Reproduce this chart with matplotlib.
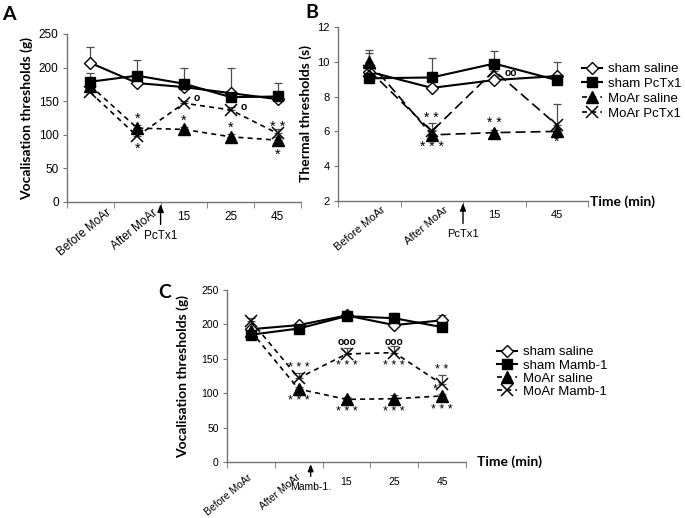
import numpy as np
import matplotlib
matplotlib.use("Agg")
import matplotlib.pyplot as plt
from matplotlib.lines import Line2D
from matplotlib.transforms import ScaledTranslation

plt.rcParams['font.family'] = ['Liberation Sans', 'DejaVu Sans']
BOLD_FONT = ['Lato', 'DejaVu Sans']

# ---- Panel A: vocalisation thresholds, PcTx1 ----
a_times = ["Before MoAr", "After MoAr", "15", "25", "45"]
a_sham_saline = [207, 177, 171, 162, 153]
a_sham_saline_err = [24, 4, 4, 37, 11]
a_sham_pctx1 = [179, 188, 176, 156, 157]
a_sham_pctx1_err = [13, 23, 24, 5, 20]
a_moar_saline = [173, 110, 108, 97, 92]
a_moar_saline_err = [4, 4, 3, 4, 4]
a_moar_pctx1 = [163, 98, 147, 137, 102]
a_moar_pctx1_err = [4, 4, 4, 5, 6]
a_marks = [(1, 124, "*"), (1, 79, "*"), (2, 121, "*"), (2.27, 155, "o"),
           (3, 111, "*"), (3.27, 141, "o"), (4, 112, "* *"), (4, 71, "*")]

# ---- Panel B: thermal thresholds, PcTx1 ----
b_times = ["Before MoAr", "After MoAr", "15", "45"]
b_sham_saline = [9.43, 8.5, 8.95, 9.18]
b_sham_saline_err = [1.1, 0.15, 0.15, 0.82]
b_sham_pctx1 = [9.05, 9.1, 9.9, 8.95]
b_sham_pctx1_err = [0.15, 1.1, 0.74, 0.15]
b_moar_saline = [10.0, 5.8, 5.93, 6.0]
b_moar_saline_err = [0.7, 0.3, 0.15, 0.15]
b_moar_pctx1 = [9.5, 6.0, 9.5, 6.37]
b_moar_pctx1_err = [0.3, 0.5, 0.3, 1.23]
b_marks = [(1, 6.77, "* *"), (1, 5.12, "* * *"), (2, 6.5, "* *"),
           (2.27, 9.37, "oo"), (3, 5.4, "*")]

# ---- Panel C: vocalisation thresholds, Mamb-1 ----
c_times = ["Before MoAr", "After MoAr", "15", "25", "45"]
c_sham_saline = [193, 199, 213, 199, 206]
c_sham_saline_err = [3, 3, 3, 3, 7]
c_sham_mamb1 = [185, 194, 212, 209, 196]
c_sham_mamb1_err = [3, 3, 3, 7, 3]
c_moar_saline = [190, 106, 91, 92, 96]
c_moar_saline_err = [3, 3, 3, 6, 3]
c_moar_mamb1 = [205, 122, 157, 159, 113]
c_moar_mamb1_err = [4, 8, 8, 9, 13]
c_marks = [(1, 136, "* * *"), (1, 88, "* * *"), (2, 174, "ooo"), (2, 140, "* * *"),
           (2, 72, "* * *"), (3, 175, "ooo"), (3, 140, "* * *"), (3, 73, "* * *"),
           (4, 134, "* *"), (3.85, 105, "*"), (4, 75, "* * *")]

AXIS_GREY = '0.45'
ERR_GREY = '0.3'


def series_styles(dash):
    return [
        dict(marker='D', ms=6, mfc='white', mec='black', color='black', lw=1.5, ls='-'),
        dict(marker='s', ms=7, mfc='black', mec='black', color='black', lw=1.5, ls='-'),
        dict(marker='^', ms=8.5, mfc='black', mec='black', color='black', lw=1.2, dashes=dash),
        dict(marker='x', ms=9, mew=1.1, color='black', lw=1.2, dashes=dash),
    ]


def draw_panel(ax, times, series, errs, dash, ylim, yticks, fs):
    x = np.arange(len(times))
    styles = series_styles(dash)
    for y, e, st in zip(series, errs, styles):
        ax.errorbar(x, y, yerr=[np.zeros(len(e)), e], fmt='none', ecolor=ERR_GREY,
                    elinewidth=0.9, capsize=3, capthick=0.9, zorder=2)
        ax.plot(x, y, zorder=3, **st)
    ax.set_xlim(-0.5, len(times) - 0.5)
    ax.set_ylim(*ylim)
    ax.set_yticks(yticks)
    ax.set_xticks([])
    ax.set_xticks(np.arange(-0.5, len(times)), minor=True)
    ax.tick_params(axis='x', which='minor', length=4, color=AXIS_GREY, direction='out')
    ax.tick_params(axis='y', length=3, color=AXIS_GREY, labelsize=fs, pad=3)
    for side in ['top', 'right']:
        ax.spines[side].set_visible(False)
    for side in ['left', 'bottom']:
        ax.spines[side].set_color(AXIS_GREY)
        ax.spines[side].set_linewidth(1)


def category_labels(fig, ax, times, rot_dx, rot_dy, num_dy, fs):
    trans = ax.get_xaxis_transform()
    for i, lab in enumerate(times):
        if i < 2:
            off = ScaledTranslation(rot_dx / 100, -rot_dy / 100, fig.dpi_scale_trans)
            ax.text(i, 0, lab, transform=trans + off, rotation=40, ha='right', va='top',
                    rotation_mode='anchor', fontsize=fs, clip_on=False)
        else:
            off = ScaledTranslation(0, -num_dy / 100, fig.dpi_scale_trans)
            ax.text(i, 0, lab, transform=trans + off, ha='center', va='center',
                    fontsize=fs, clip_on=False)


def injection_arrow(ax, xpos, label, text_dy, fs):
    ax.annotate(label, xy=(xpos, 0), xycoords=ax.get_xaxis_transform(),
                xytext=(0, -text_dy * 0.72), textcoords='offset points',
                ha='center', va='center', fontsize=fs, annotation_clip=False,
                arrowprops=dict(arrowstyle='-|>,head_width=0.22,head_length=0.55',
                                color='black', lw=1, shrinkA=2, shrinkB=1.5))


def marks(ax, items, fs):
    for xm, ym, txt in items:
        if 'o' in txt:
            ax.text(xm, ym, txt, ha='center', va='center', fontsize=7.5,
                    fontweight='bold', zorder=4)
        else:
            ax.text(xm, ym, txt, ha='center', va='center', fontsize=fs, zorder=4)


def legend_handles(dash):
    return [Line2D([], [], **st) for st in series_styles(dash)]


fig = plt.figure(figsize=(6.85, 5.18), dpi=100)
W, H = 685, 518


def px_axes(left, top, right, bottom):
    return fig.add_axes([left / W, 1 - bottom / H, (right - left) / W, (bottom - top) / H])


dash_short = (3, 2.5)
dash_long = (6, 3)

# Panel A
axA = px_axes(67, 34, 301, 202)
draw_panel(axA, a_times, [a_sham_saline, a_sham_pctx1, a_moar_saline, a_moar_pctx1],
           [a_sham_saline_err, a_sham_pctx1_err, a_moar_saline_err, a_moar_pctx1_err],
           dash_short, (0, 250), np.arange(0, 251, 50), 8.5)
category_labels(fig, axA, a_times, 15, 5, 15, 8.5)
injection_arrow(axA, 1.5, "PcTx1", 34, 8.5)
marks(axA, a_marks, 10.5)
axA.set_ylabel("Vocalisation thresholds (g)", fontsize=10, fontweight='bold', family=BOLD_FONT)
axA.yaxis.set_label_coords(-0.146, 0.5)

# Panel B
axB = px_axes(338, 27, 588, 201)
draw_panel(axB, b_times, [b_sham_saline, b_sham_pctx1, b_moar_saline, b_moar_pctx1],
           [b_sham_saline_err, b_sham_pctx1_err, b_moar_saline_err, b_moar_pctx1_err],
           dash_long, (2, 12), np.arange(2, 13, 2), 8)
category_labels(fig, axB, b_times, 12, 4, 14, 8)
injection_arrow(axB, 1.5, "PcTx1", 33, 8)
marks(axB, b_marks, 10)
axB.set_ylabel("Thermal thresholds (s)", fontsize=10, fontweight='bold', family=BOLD_FONT)
axB.yaxis.set_label_coords(-0.104, 0.5)

# Panel C
axC = px_axes(227, 290, 466, 462)
draw_panel(axC, c_times, [c_sham_saline, c_sham_mamb1, c_moar_saline, c_moar_mamb1],
           [c_sham_saline_err, c_sham_mamb1_err, c_moar_saline_err, c_moar_mamb1_err],
           dash_short, (0, 250), np.arange(0, 251, 50), 7.5)
category_labels(fig, axC, c_times, -3, 10, 20, 7.5)
injection_arrow(axC, 1.25, "Mamb-1.", 25, 7.5)
marks(axC, c_marks, 9)
axC.set_ylabel("Vocalisation thresholds (g)", fontsize=10, fontweight='bold', family=BOLD_FONT)
axC.yaxis.set_label_coords(-0.159, 0.5)

# axis titles and panel letters
fig.text(590 / W, 1 - 202 / H, "Time (min)", fontsize=10, fontweight='bold',
         family=BOLD_FONT, va='center', ha='left')
fig.text(477 / W, 1 - 462 / H, "Time (min)", fontsize=10, fontweight='bold',
         family=BOLD_FONT, va='center', ha='left')
for letter, lx, ly in [("A", 2, 15), ("B", 305, 12), ("C", 158, 292)]:
    fig.text(lx / W, 1 - ly / H, letter, fontsize=14, fontweight='bold',
             family=BOLD_FONT, va='center', ha='left')

# legends
fig.legend(legend_handles(dash_short), ["sham saline", "sham PcTx1", "MoAr saline", "MoAr PcTx1"],
           loc='upper left', bbox_to_anchor=(582 / W, 1 - 63 / H), frameon=False,
           fontsize=9.5, handlelength=1.5, handletextpad=0.5, borderpad=0,
           borderaxespad=0, labelspacing=0.2)
fig.legend(legend_handles(dash_short), ["sham saline", "sham Mamb-1", "MoAr saline", "MoAr Mamb-1"],
           loc='upper left', bbox_to_anchor=(497 / W, 1 - 346 / H), frameon=False,
           fontsize=9.5, handlelength=1.5, handletextpad=0.5, borderpad=0,
           borderaxespad=0, labelspacing=0.08)

fig.savefig("out.png", dpi=100)
